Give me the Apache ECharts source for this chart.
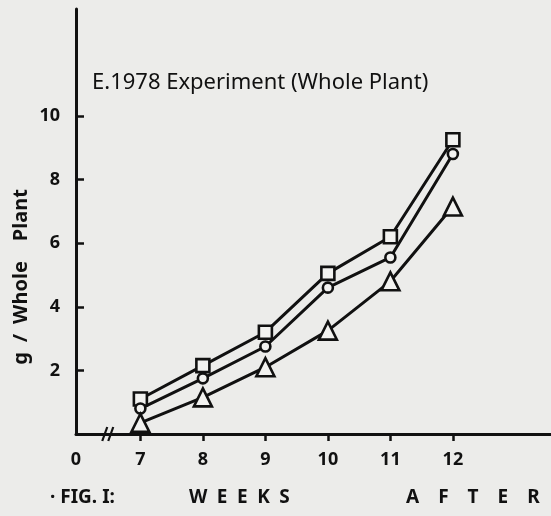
<!DOCTYPE html>
<html>
<head>
<meta charset="utf-8">
<script src="https://cdn.jsdelivr.net/npm/echarts@6/dist/echarts.min.js"></script>
<style>
html,body{margin:0;padding:0;background:#ececea;}
#chart{width:551px;height:516px;}
</style>
</head>
<body>
<div id="chart"></div>
<script>
// Data
const weeks = [7, 8, 9, 10, 11, 12];
const squareSeries = [1.1, 2.15, 3.2, 5.05, 6.2, 9.25];
const circleSeries = [0.8, 1.75, 2.75, 4.6, 5.55, 8.8];
const triangleSeries = [0.35, 1.15, 2.1, 3.25, 4.8, 7.15];
const xTickValues = [7, 8, 9, 10, 11, 12];
const yTickValues = [2, 4, 6, 8, 10];
const titleText = 'E.1978 Experiment (Whole Plant)';
const yName = 'g / Whole  Plant';
const originLabel = '0';
const captionParts = ['· FIG. I:', 'W\u2002E\u2002E\u2002K\u2002S', 'A\u2003F\u2003T\u2003E\u2003R'];

const XMIN = 5.97, XMAX = 13.57;

const chart = echarts.init(document.getElementById('chart'), null, {renderer: 'canvas'});
const FONT = 'Noto Sans';
const ink = '#111';

function mk(name, data, symbol, size) {
  return {
    name: name,
    type: 'line',
    data: weeks.map((w, i) => [w, data[i]]),
    symbol: symbol,
    symbolSize: size,
    showAllSymbol: true,
    lineStyle: {color: ink, width: 3},
    itemStyle: {color: '#f2f2f0', borderColor: ink, borderWidth: 2.6},
    z: 3
  };
}

const option = {
  backgroundColor: '#ececea',
  animation: false,
  grid: {left: 76, right: 0, top: 9, bottom: 82},
  title: [
    {text: titleText, left: 87, top: 67,
     textStyle: {fontFamily: FONT, fontSize: 22, fontWeight: 'normal', color: ink}},
  ],
  xAxis: {
    type: 'value', min: XMIN, max: XMAX,
    axisLine: {show: true, lineStyle: {color: ink, width: 3}},
    splitLine: {show: false},
    axisTick: {show: true, inside: false, length: 7, lineStyle: {color: ink, width: 2.5},
      customValues: xTickValues},
    axisLabel: {
      customValues: [XMIN].concat(xTickValues),
      formatter: v => Math.abs(v - XMIN) < 1e-6 ? originLabel : String(v),
      margin: 17, color: ink, fontFamily: FONT, fontSize: 18, fontWeight: 'bold'
    }
  },
  yAxis: {
    type: 'value', min: 0, max: 13.36,
    axisLine: {show: true, lineStyle: {color: ink, width: 3}},
    splitLine: {show: false},
    axisTick: {show: true, inside: true, length: 8, lineStyle: {color: ink, width: 2.5},
      customValues: yTickValues},
    axisLabel: {customValues: yTickValues, margin: 16, color: ink, fontFamily: FONT,
      fontSize: 18, fontWeight: 'bold'}
  },
  series: [
    mk('square', squareSeries, 'rect', 13),
    mk('circle', circleSeries, 'circle', 10),
    mk('triangle', triangleSeries, 'triangle', 18)
  ]
};
chart.setOption(option);

// decorations: axis-break marks, y-axis title and bottom caption
const bx = chart.convertToPixel({xAxisIndex: 0}, 6.47);
const by = chart.convertToPixel({yAxisIndex: 0}, 0);
const capStyle = {fontFamily: FONT, fontSize: 19, fontWeight: 'bold', fill: ink};
chart.setOption({
  graphic: [
    {type: 'line', shape: {x1: bx - 5, y1: by + 7, x2: bx, y2: by - 7}, style: {stroke: ink, lineWidth: 2.2}},
    {type: 'line', shape: {x1: bx + 1, y1: by + 7, x2: bx + 6, y2: by - 7}, style: {stroke: ink, lineWidth: 2.2}},
    {type: 'text', x: 21, y: 277, rotation: Math.PI / 2,
     style: {text: yName.replace(/ /g, '\u2002'), fontFamily: FONT, fontSize: 20, fontWeight: 'bold', fill: ink,
             align: 'center', verticalAlign: 'middle'}},
    {type: 'text', left: 50, top: 488, style: Object.assign({text: captionParts[0]}, capStyle)},
    {type: 'text', left: 189, top: 488, style: Object.assign({text: captionParts[1]}, capStyle)},
    {type: 'text', left: 406, top: 488, style: Object.assign({text: captionParts[2]}, capStyle)}
  ]
});
</script>
</body>
</html>
